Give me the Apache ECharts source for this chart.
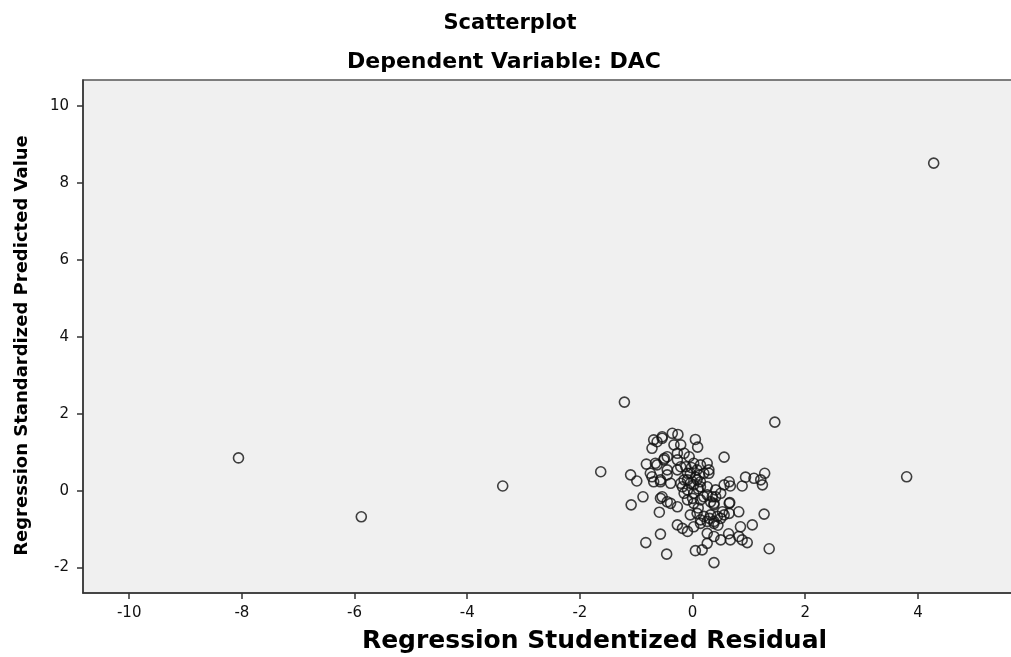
<!DOCTYPE html>
<html>
<head>
<meta charset="utf-8">
<script src="https://cdn.jsdelivr.net/npm/echarts@6/dist/echarts.min.js"></script>
<style>
html,body{margin:0;padding:0;background:#fff;}
#chart{width:1011px;height:657px;}
</style>
</head>
<body>
<div id="chart"></div>
<script>
var chartTitle = "Scatterplot";
var chartSubtitle = "Dependent Variable: DAC";
var xAxisTitle = "Regression Studentized Residual";
var yAxisTitle = "Regression Standardized Predicted Value";
var xTicks = [-10, -8, -6, -4, -2, 0, 2, 4];
var yTicks = [-2, 0, 2, 4, 6, 8, 10];

var residual = [
  4.28, -8.06, -5.88, -3.37, -1.63, -1.21, 1.46, 3.80,
  -0.36, -0.26, -0.54, -0.63, -0.72, 0.05, 0.09, -0.33, 0.56, -0.82, -0.50, -0.27,
  -0.63, -1.10, -0.99, -0.72, -0.69, -0.57, -0.45, -0.39, -0.21, -0.09, 0.02, 0.14,
  0.26, 0.29, -0.15, -0.04, 0.08, -0.09, 0.02, 0.14, -0.18, 0.56, 0.67, 0.88,
  0.94, 1.09, 1.21, 1.28, 1.24, -0.88, -1.09, -0.54, -0.39, -0.27, -0.59, 0.26,
  0.35, 0.66, 0.82, 1.27, -0.04, 0.08, 0.20, 0.32, 0.44, 0.56, 0.26, 0.38,
  0.14, -0.27, -0.18, -0.09, 0.02, 0.85, 1.06, -0.57, 0.26, 0.38, 0.50, 0.64,
  0.67, 0.82, 0.88, 0.97, -0.83, 0.26, 1.36, -0.46, 0.05, 0.17, 0.38,
  -0.69, -0.54, -0.21, -0.66, -0.51, -0.45, -0.27, -0.15, -0.06, -0.75, -0.57, -0.45,
  -0.27, -0.12, -0.04, 0.08, 0.20, 0.29, -0.21, -0.09, 0.02, 0.14, 0.26, 0.41,
  0.65, 0.50, 0.41, 0.32, -0.57, -0.45, -0.15, -0.09, 0.02, 0.14, 0.20, 0.38,
  0.53, 0.65, 0.65, 0.38, 0.14, 0.50, 0.38,
  0.05, 0.10, -0.02, 0.12, 0.00, 0.10, 0.30, 0.45
];
var predicted = [
  8.51, 0.85, -0.68, 0.12, 0.49, 2.30, 1.78, 0.36,
  1.49, 1.46, 1.36, 1.27, 1.10, 1.33, 1.13, 1.19, 0.87, 0.69, 0.84, 0.80,
  0.67, 0.41, 0.25, 0.36, 0.23, 0.28, 0.54, 0.19, 0.62, 0.45, 0.71, 0.67,
  0.71, 0.45, 0.28, 0.19, 0.28, 0.02, -0.07, 0.10, 0.10, 0.15, 0.12, 0.12,
  0.35, 0.32, 0.28, 0.45, 0.15, -0.16, -0.37, -0.16, -0.33, -0.42, -0.56, -0.11,
  -0.16, -0.31, -0.55, -0.61, -0.63, -0.59, -0.67, -0.63, -0.67, -0.63, -0.80, -0.85,
  -0.85, -0.89, -0.98, -1.06, -0.94, -0.94, -0.89, -1.13, -1.11, -1.19, -1.28, -1.12,
  -1.28, -1.19, -1.28, -1.35, -1.35, -1.37, -1.51, -1.65, -1.56, -1.54, -1.87,
  1.32, 1.40, 1.19, 0.71, 0.80, 0.88, 0.97, 0.97, 0.88, 0.45, 0.23, 0.41,
  0.54, 0.62, 0.45, 0.54, 0.45, 0.54, 0.19, 0.28, 0.15, 0.23, 0.10, 0.02,
  0.23, -0.07, -0.16, -0.29, -0.20, -0.29, -0.07, -0.24, -0.33, -0.24, -0.16, -0.33,
  -0.55, -0.59, -0.33, -0.37, -0.76, -0.72, -0.80,
  0.35, 0.05, 0.60, 0.40, -0.20, -0.45, -0.72, -0.90
];

var points = residual.map(function (x, i) { return [x, predicted[i]]; });
var font = "'DejaVu Sans', Verdana, sans-serif";

var chart = echarts.init(document.getElementById('chart'), null, {renderer: 'canvas'});
chart.setOption({
  animation: false,
  backgroundColor: '#ffffff',
  title: [
    {text: chartTitle, left: 505, top: 8, textAlign: 'center',
     textStyle: {fontFamily: font, fontSize: 21, fontWeight: 'bold', color: '#000'}},
    {text: chartSubtitle, left: 499, top: 46, textAlign: 'center',
     textStyle: {fontFamily: font, fontSize: 22, fontWeight: 'bold', color: '#000'}}
  ],
  grid: {
    left: 83, top: 80, right: -1, bottom: 64,
    outerBoundsMode: 'none', containLabel: false,
    show: true, backgroundColor: '#f0f0f0', borderColor: '#555', borderWidth: 1.5
  },
  xAxis: {
    type: 'value', min: -10.82, max: 5.67,
    name: xAxisTitle, nameLocation: 'middle', nameGap: 36,
    nameTextStyle: {fontFamily: font, fontSize: 25, fontWeight: 'bold', color: '#000', padding: [0, 0, 0, 94]},
    splitLine: {show: false},
    axisLine: {show: true, onZero: false, lineStyle: {color: '#333', width: 1.5}},
    axisTick: {show: true, length: 6, customValues: xTicks, lineStyle: {color: '#333', width: 1.5}},
    axisLabel: {customValues: xTicks, margin: 13, fontFamily: font, fontSize: 15, color: '#111'}
  },
  yAxis: {
    type: 'value', min: -2.66, max: 10.67,
    name: yAxisTitle, nameLocation: 'middle', nameGap: 52,
    nameTextStyle: {fontFamily: font, fontSize: 18, fontWeight: 'bold', color: '#000', padding: [0, 18, 0, 0]},
    splitLine: {show: false},
    axisLine: {show: true, onZero: false, lineStyle: {color: '#333', width: 1.5}},
    axisTick: {show: true, length: 6, customValues: yTicks, lineStyle: {color: '#333', width: 1.5}},
    axisLabel: {customValues: yTicks, margin: 14, fontFamily: font, fontSize: 15, color: '#111'}
  },
  series: [{
    type: 'scatter',
    data: points,
    symbol: 'circle',
    symbolSize: 10,
    itemStyle: {color: 'rgba(0,0,0,0)', borderColor: '#111', borderWidth: 1.6}
  }]
});
</script>
</body>
</html>
